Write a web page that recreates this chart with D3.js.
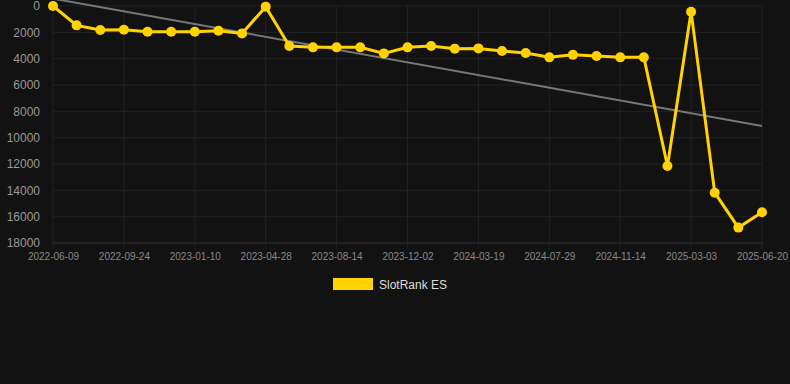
<!DOCTYPE html>
<html>
<head>
<meta charset="utf-8">
<script src="https://cdn.jsdelivr.net/npm/d3@7"></script>
<style>
  html, body { margin: 0; padding: 0; background: #121212; }
  svg { display: block; font-family: Arial, "Liberation Sans", sans-serif; }
</style>
</head>
<body>
<div id="chart"></div>
<script>
// dates (every third one is labelled on the axis)
const dates = [
  '2022-06-09', '2022-07-15', '2022-08-20', '2022-09-24', '2022-10-30', '2022-12-05',
  '2023-01-10', '2023-02-15', '2023-03-23', '2023-04-28', '2023-06-03', '2023-07-09',
  '2023-08-14', '2023-09-19', '2023-10-26', '2023-12-02', '2024-01-07', '2024-02-12',
  '2024-03-19', '2024-05-02', '2024-06-15', '2024-07-29', '2024-09-02', '2024-10-09',
  '2024-11-14', '2024-12-20', '2025-01-25', '2025-03-03', '2025-04-08', '2025-05-15',
  '2025-06-20'
];
const rank = [
  0, 1470, 1820, 1800, 1950, 1950, 1950, 1880, 2080, 50, 3040, 3140,
  3140, 3140, 3600, 3140, 3040, 3240, 3220, 3420, 3570, 3900, 3710, 3800,
  3900, 3900, 12150, 430, 14180, 16830, 15670
];
const trend = [-560, 9110]; // first and last value of the trend line
const yTicks = [0, 2000, 4000, 6000, 8000, 10000, 12000, 14000, 16000, 18000];
const seriesName = 'SlotRank ES';

const width = 790, height = 384;
const margin = { top: 6, left: 53, right: 28, bottom: 141 };
const gold = '#ffd200';

const svg = d3.select('#chart').append('svg')
  .attr('width', width)
  .attr('height', height);

svg.append('rect').attr('width', width).attr('height', height).attr('fill', '#121212');

const x = d3.scalePoint()
  .domain(dates)
  .range([margin.left, width - margin.right]);

const y = d3.scaleLinear()
  .domain([0, 18000])
  .range([margin.top, height - margin.bottom]);

// grid
svg.append('g')
  .selectAll('line')
  .data(yTicks)
  .join('line')
  .attr('x1', margin.left).attr('x2', width - margin.right)
  .attr('y1', d => y(d)).attr('y2', d => y(d))
  .attr('stroke', d => d === 18000 ? '#333' : '#222')
  .attr('stroke-width', 1);

const labelled = dates.filter((d, i) => i % 3 === 0);

svg.append('g')
  .selectAll('line')
  .data(labelled)
  .join('line')
  .attr('x1', d => x(d)).attr('x2', d => x(d))
  .attr('y1', margin.top).attr('y2', y(18000) + 6)
  .attr('stroke', '#222')
  .attr('stroke-width', 1);

// axes
const yAxis = svg.append('g')
  .attr('transform', `translate(${margin.left - 10},0)`)
  .call(d3.axisLeft(y).tickValues(yTicks).tickSize(0).tickFormat(d3.format('d')));
yAxis.select('.domain').remove();
yAxis.selectAll('text')
  .attr('fill', '#999')
  .attr('font-size', 12)
  .attr('dx', 0);

const xAxis = svg.append('g')
  .attr('transform', `translate(0,${y(18000)})`)
  .call(d3.axisBottom(x).tickValues(labelled).tickSize(0).tickPadding(10));
xAxis.select('.domain').remove();
xAxis.selectAll('text')
  .attr('fill', '#888')
  .attr('font-size', 10);

// trend line
const first = dates[0], last = dates[dates.length - 1];
svg.append('line')
  .attr('x1', x(first)).attr('y1', y(trend[0]))
  .attr('x2', x(last)).attr('y2', y(trend[1]))
  .attr('stroke', '#777')
  .attr('stroke-width', 2);

// series
const line = d3.line()
  .x((d, i) => x(dates[i]))
  .y(d => y(d));

svg.append('path')
  .datum(rank)
  .attr('d', line)
  .attr('fill', 'none')
  .attr('stroke', gold)
  .attr('stroke-width', 3)
  .attr('stroke-linejoin', 'miter');

svg.append('g')
  .selectAll('circle')
  .data(rank)
  .join('circle')
  .attr('cx', (d, i) => x(dates[i]))
  .attr('cy', d => y(d))
  .attr('r', 5)
  .attr('fill', gold);

// legend
const legend = svg.append('g').attr('transform', 'translate(333,278)');
legend.append('rect')
  .attr('width', 40).attr('height', 12)
  .attr('fill', gold);
legend.append('text')
  .attr('x', 46).attr('y', 10.5)
  .attr('fill', '#ddd')
  .attr('font-size', 12)
  .text(seriesName);
</script>
</body>
</html>
